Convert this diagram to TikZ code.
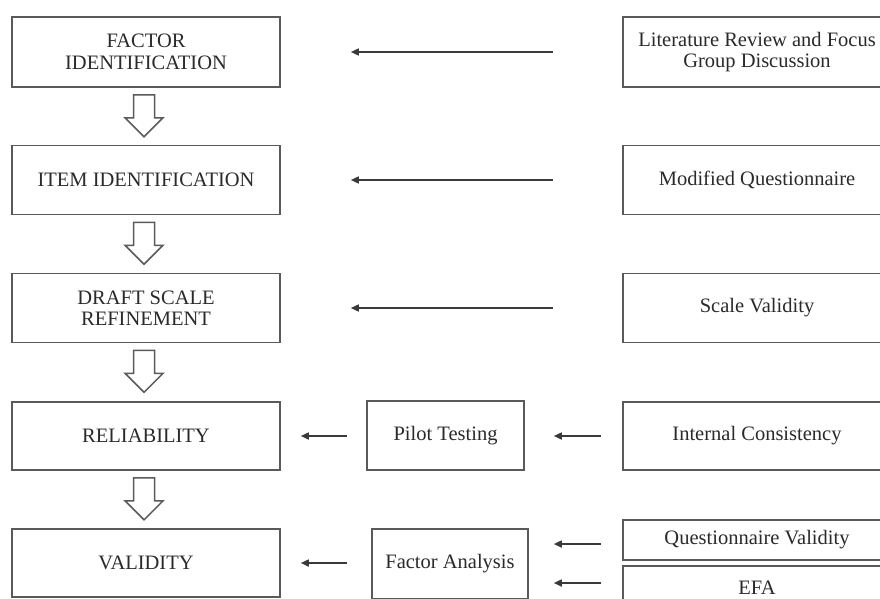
\documentclass[tikz,border=0pt]{standalone}
\usepackage{fontspec}
\setmainfont{Liberation Serif}
\usetikzlibrary{calc,arrows.meta}
\definecolor{boxline}{HTML}{5A5A5A}
\definecolor{txt}{HTML}{2A2A2A}
\definecolor{arrline}{HTML}{3A3A3A}
\tikzset{
  box/.style={draw=boxline, line width=1.6pt, inner sep=0pt, align=center,
    text=txt, font=\fontsize{20.5}{21.5}\selectfont},
  sidebox/.style={box, minimum width=268pt},
  arr/.style={draw=arrline, line width=1.6pt, -{Triangle[length=8pt,width=7pt]}},
  hollowarr/.style={draw=boxline, line width=1.5pt, fill=white, line join=miter}
}
\newcommand{\hollowdown}[1]{%
  \draw[hollowarr] ($(#1.south)+(-12.5,7)$) -- ++(21,0) -- ++(0,23) -- ++(8.5,0)
    -- ++(-19,19) -- ++(-19,-19) -- ++(8.5,0) -- cycle;}
\begin{document}
\begin{tikzpicture}[x=1pt,y=-1pt]
\useasboundingbox (0,0) rectangle (880,598);
\clip (0,0) rectangle (880,598);
\fill[white] (0,0) rectangle (880,598);
% left column
\node[sidebox, minimum height=70pt] (f1) at (146,52) {FACTOR\\IDENTIFICATION};
\node[sidebox, minimum height=69pt] (f2) at (146,180) {ITEM IDENTIFICATION};
\node[sidebox, minimum height=69pt] (f3) at (146,308) {DRAFT SCALE\\REFINEMENT};
\node[sidebox, minimum height=68pt] (f4) at (146,436) {RELIABILITY};
\node[sidebox, minimum height=68pt] (f5) at (146,563) {VALIDITY};
% right column
\node[sidebox, minimum height=70pt] (r1) at (757,52) {Literature Review and Focus\\Group Discussion};
\node[sidebox, minimum height=69pt] (r2) at (757,180) {Modified Questionnaire};
\node[sidebox, minimum height=69pt] (r3) at (757,308) {Scale Validity};
\node[sidebox, minimum height=68pt] (r4) at (757,436) {Internal Consistency};
\node[sidebox, minimum height=40pt] (r5) at (757,540) {Questionnaire Validity};
\node[sidebox, minimum height=44pt] (r6) at (757,588) {EFA};
% middle column
\node[box, minimum width=157pt, minimum height=69pt] (p) at (445.5,435.5) {Pilot Testing};
\node[box, minimum width=156pt, minimum height=70pt] (fa) at (450,564) {Factor Analysis};
% hollow arrows
\hollowdown{f1}
\hollowdown{f2}
\hollowdown{f3}
\hollowdown{f4}
% connectors
\draw[arr, shorten <=69pt, shorten >=70pt] (r1.west) -- (f1.east);
\draw[arr, shorten <=69pt, shorten >=70pt] (r2.west) -- (f2.east);
\draw[arr, shorten <=69pt, shorten >=70pt] (r3.west) -- (f3.east);
\draw[arr, shorten <=19pt, shorten >=20pt] (p.west |- f4.east) -- (f4.east);
\draw[arr, shorten <=21pt, shorten >=29pt] (r4.west) -- (p.east |- r4.west);
\draw[arr, shorten <=24pt, shorten >=20pt] (fa.west |- f5.east) -- (f5.east);
\draw[arr, shorten <=21pt, shorten >=25pt] ([yshift=-4pt]r5.west) -- ([yshift=-4pt]fa.east |- r5.west);
\draw[arr, shorten <=21pt, shorten >=25pt] ([yshift=5pt]r6.west) -- ([yshift=5pt]fa.east |- r6.west);
\end{tikzpicture}
\end{document}
